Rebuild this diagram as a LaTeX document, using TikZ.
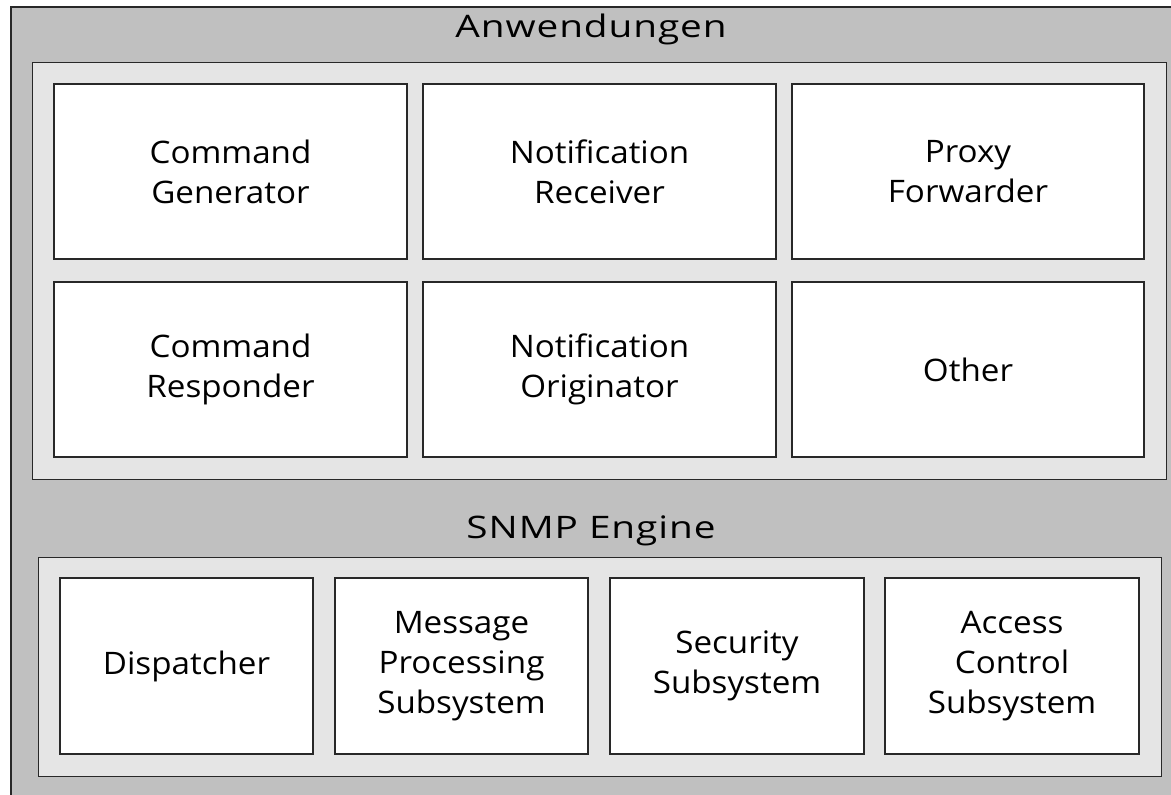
\documentclass[tikz,border=0pt]{standalone}
\usepackage{fontspec}
\setmainfont{Open Sans}
\newfontfamily\unitfont[FakeStretch=1.07]{Open Sans}
\newfontfamily\headfont[FakeStretch=1.25,LetterSpace=3]{Open Sans}
\definecolor{outergray}{RGB}{192,192,192}
\definecolor{innergray}{RGB}{229,229,229}
\definecolor{edge}{RGB}{40,40,40}
\begin{document}
\begin{tikzpicture}[x=1pt,y=-1pt,
  frame/.style={draw=edge,line width=1.4pt},
  panel/.style={frame,fill=innergray,inner sep=0pt,anchor=north west},
  unit/.style={frame,fill=white,inner sep=0pt,align=center,
    font=\unitfont\fontsize{31}{40}\selectfont},
  heading/.style={font=\headfont\fontsize{31}{40}\selectfont,inner sep=0pt,anchor=base}]
\useasboundingbox (0,0) rectangle (1171,795);
\clip (0,0) rectangle (1171,795);
% grey backdrop running off the right and bottom edges
\fill[outergray] (11,7) rectangle (1200,820);
\draw[frame] (1200,7) -- (11,7) -- (11,820);

% applications layer
\node[heading] (apptitle) at (591,37) {Anwendungen};
\node[panel,minimum width=1134pt,minimum height=417pt] (apps) at (32,62) {};
\node[unit,minimum width=353pt,minimum height=175pt] (cg) at (230.5,171.5) {Command\\Generator};
\node[unit,minimum width=353pt,minimum height=175pt] (nr) at (599.5,171.5) {Notification\\Receiver};
\node[unit,minimum width=352pt,minimum height=175pt] (pf) at (968,171.5) {Proxy\\Forwarder};
\node[unit,minimum width=353pt,minimum height=175pt] (cr) at (230.5,369.5) {Command\\Responder};
\node[unit,minimum width=353pt,minimum height=175pt] (no) at (599.5,369.5) {Notification\\Originator};
\node[unit,minimum width=352pt,minimum height=175pt] (ot) at (968,369.5) {Other};

% engine layer
\node[heading] (enginetitle) at (591,538) {SNMP Engine};
\node[panel,minimum width=1123pt,minimum height=219pt] (engine) at (38,557) {};
\node[unit,minimum width=253pt,minimum height=176pt] (disp) at (186.5,666) {Dispatcher};
\node[unit,minimum width=253pt,minimum height=176pt] (mps) at (461.5,666) {Message\\Processing\\Subsystem};
\node[unit,minimum width=254pt,minimum height=176pt] (sec) at (737,666) {Security\\Subsystem};
\node[unit,minimum width=254pt,minimum height=176pt] (acs) at (1012,666) {Access\\Control\\Subsystem};
\end{tikzpicture}
\end{document}
